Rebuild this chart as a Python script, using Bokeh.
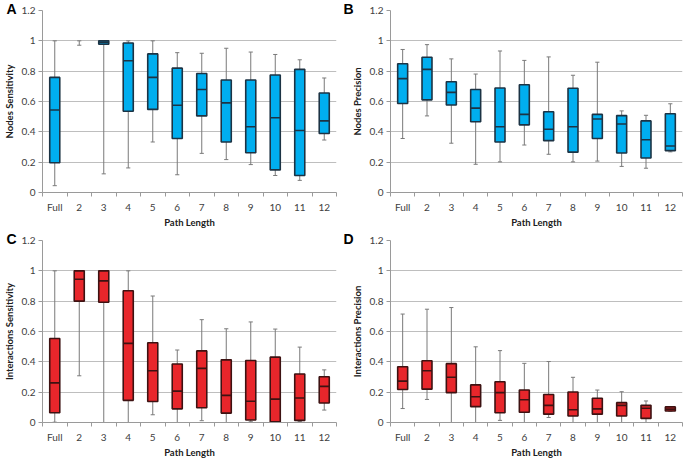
import numpy as np
from bokeh.plotting import figure
from bokeh.layouts import gridplot
from bokeh.models import (FixedTicker, CustomJSTickFormatter, ColumnDataSource, Range1d, Title)
from bokeh.embed import file_html
from bokeh.resources import INLINE

categories = ["Full", "2", "3", "4", "5", "6", "7", "8", "9", "10", "11", "12"]
y_ticks = [0, 0.2, 0.4, 0.6, 0.8, 1.0, 1.2]

# Panel A: Nodes Sensitivity
a_low = [0.045, 0.971, 0.123, 0.162, 0.333, 0.117, 0.258, 0.217, 0.184, 0.112, 0.080, 0.346]
a_q1 = [0.196, 1.000, 0.977, 0.536, 0.548, 0.356, 0.505, 0.333, 0.262, 0.149, 0.112, 0.389]
a_med = [0.544, 1.000, 0.990, 0.869, 0.759, 0.575, 0.679, 0.591, 0.434, 0.493, 0.409, 0.472]
a_q3 = [0.759, 1.000, 1.000, 0.986, 0.914, 0.820, 0.785, 0.742, 0.742, 0.775, 0.812, 0.656]
a_high = [1.000, 1.000, 1.000, 1.000, 1.000, 0.922, 0.918, 0.951, 0.926, 0.910, 0.875, 0.755]

# Panel B: Nodes Precision
b_low = [0.356, 0.505, 0.325, 0.186, 0.202, 0.313, 0.252, 0.202, 0.207, 0.172, 0.160, 0.268]
b_q1 = [0.587, 0.611, 0.577, 0.466, 0.333, 0.446, 0.342, 0.266, 0.356, 0.260, 0.227, 0.276]
b_med = [0.751, 0.812, 0.660, 0.556, 0.434, 0.515, 0.417, 0.434, 0.485, 0.452, 0.348, 0.307]
b_q3 = [0.849, 0.892, 0.730, 0.679, 0.689, 0.710, 0.532, 0.687, 0.515, 0.507, 0.472, 0.519]
b_high = [0.943, 0.975, 0.881, 0.781, 0.933, 0.871, 0.894, 0.773, 0.859, 0.538, 0.509, 0.585]

# Panel C: Interactions Sensitivity
c_low = [0.002, 0.308, 0.000, 0.000, 0.051, 0.000, 0.012, 0.000, 0.005, 0.000, 0.006, 0.082]
c_q1 = [0.064, 0.800, 0.793, 0.146, 0.138, 0.090, 0.097, 0.062, 0.016, 0.004, 0.014, 0.129]
c_med = [0.261, 0.945, 0.934, 0.522, 0.341, 0.207, 0.357, 0.179, 0.140, 0.154, 0.162, 0.238]
c_q3 = [0.554, 1.000, 1.000, 0.869, 0.526, 0.386, 0.472, 0.413, 0.409, 0.431, 0.320, 0.302]
c_high = [1.000, 1.000, 1.000, 1.000, 0.834, 0.478, 0.678, 0.618, 0.663, 0.616, 0.497, 0.347]

# Panel D: Interactions Precision
d_low = [0.092, 0.152, 0.000, 0.000, 0.014, 0.000, 0.033, 0.000, 0.000, 0.000, 0.000, 0.074]
d_q1 = [0.218, 0.220, 0.197, 0.105, 0.064, 0.068, 0.055, 0.043, 0.055, 0.043, 0.027, 0.076]
d_med = [0.273, 0.341, 0.298, 0.170, 0.197, 0.150, 0.113, 0.084, 0.090, 0.113, 0.094, 0.088]
d_q3 = [0.368, 0.407, 0.388, 0.248, 0.269, 0.214, 0.185, 0.201, 0.160, 0.131, 0.113, 0.103]
d_high = [0.715, 0.747, 0.758, 0.499, 0.474, 0.390, 0.402, 0.298, 0.214, 0.203, 0.142, 0.105]

BLUE = "#00AEEF"
BLUE_EDGE = "#1C3344"
RED = "#E8262B"
RED_EDGE = "#3D1212"
GRID = "#BEBEBE"
AXIS = "#9A9A9A"
WHISK = "#7A7A7A"
FONT = "Lato"

BOX_W = 0.41
CAP_W = 0.17


def make_panel(letter, ylabel, low, q1, med, q3, high, fill, edge,
               width, height, border_left, border_right, letter_offset):
    p = figure(width=width, height=height, output_backend="svg", toolbar_location=None,
               x_range=Range1d(0.5, 12.5), y_range=Range1d(0, 1.2),
               min_border_left=border_left, min_border_right=border_right,
               min_border_top=10, min_border_bottom=0)
    p.outline_line_color = None
    p.background_fill_color = "white"
    p.border_fill_color = "white"

    t = Title(text=letter, align="left", offset=letter_offset, standoff=-12,
              text_font="Liberation Sans", text_font_style="bold",
              text_font_size="14px", text_color="black")
    p.add_layout(t, "above")

    x = np.arange(1, len(categories) + 1, dtype=float)
    low = np.array(low); q1 = np.array(q1); med = np.array(med)
    q3 = np.array(q3); high = np.array(high)

    wsrc = ColumnDataSource(dict(x=x, low=low, high=high,
                                 cl=x - CAP_W / 2, cr=x + CAP_W / 2))
    p.segment(x0="x", y0="low", x1="x", y1="high", source=wsrc,
              line_color=WHISK, line_width=1)
    p.segment(x0="cl", y0="high", x1="cr", y1="high", source=wsrc,
              line_color=WHISK, line_width=1)
    p.segment(x0="cl", y0="low", x1="cr", y1="low", source=wsrc,
              line_color=WHISK, line_width=1)

    keep = q3 > q1
    bsrc = ColumnDataSource(dict(x=x[keep], q1=q1[keep], q3=q3[keep], med=med[keep],
                                 ml=x[keep] - BOX_W / 2, mr=x[keep] + BOX_W / 2))
    p.vbar(x="x", width=BOX_W, top="q3", bottom="q1", source=bsrc,
           fill_color=fill, line_color=edge, line_width=1.6)
    p.segment(x0="ml", y0="med", x1="mr", y1="med", source=bsrc,
              line_color=edge, line_width=1.6)

    # axes
    p.xaxis.ticker = FixedTicker(ticks=list(x), minor_ticks=list(np.arange(0.5, 13.0, 1.0)))
    p.xaxis.formatter = CustomJSTickFormatter(args=dict(cats=categories), code="""
        const i = Math.round(tick) - 1;
        return (i >= 0 && i < cats.length) ? cats[i] : '';
    """)
    p.xaxis.major_tick_line_color = None
    p.xaxis.major_tick_out = 0
    p.xaxis.major_tick_in = 0
    p.xaxis.minor_tick_line_color = AXIS
    p.xaxis.minor_tick_out = 4
    p.xaxis.minor_tick_in = 0
    p.xaxis.axis_line_color = AXIS
    p.xaxis.axis_label = "Path Length"
    p.xaxis.major_label_standoff = 4

    p.yaxis.ticker = FixedTicker(ticks=y_ticks, minor_ticks=[])
    p.yaxis.formatter = CustomJSTickFormatter(code="return (Math.round(tick*10)/10).toString();")
    p.yaxis.major_tick_line_color = AXIS
    p.yaxis.major_tick_out = 4
    p.yaxis.major_tick_in = 0
    p.yaxis.minor_tick_line_color = None
    p.yaxis.axis_line_color = AXIS
    p.yaxis.axis_label = ylabel
    p.yaxis.major_label_standoff = 3

    for ax in (p.xaxis[0], p.yaxis[0]):
        ax.major_label_text_font = FONT
        ax.major_label_text_font_size = "10px"
        ax.major_label_text_color = "#404040"
        ax.axis_label_text_font = FONT
        ax.axis_label_text_font_size = "9.5px"
        ax.axis_label_text_font_style = "bold"
        ax.axis_label_text_color = "#202020"
    p.xaxis.axis_label_standoff = 1
    p.yaxis.axis_label_standoff = 4

    p.xgrid.grid_line_color = None
    p.ygrid.grid_line_color = GRID
    p.ygrid.grid_line_width = 1
    return p


W1, W2, H = 342, 342, 230
pa = make_panel("A", "Nodes Sensitivity", a_low, a_q1, a_med, a_q3, a_high, BLUE, BLUE_EDGE,
                W1, H, 0, 6, -36)
pb = make_panel("B", "Nodes Precision", b_low, b_q1, b_med, b_q3, b_high, BLUE, BLUE_EDGE,
                W2, H, 48, 2, -47)
pc = make_panel("C", "Interactions Sensitivity", c_low, c_q1, c_med, c_q3, c_high, RED, RED_EDGE,
                W1, H, 0, 6, -36)
pd = make_panel("D", "Interactions Precision", d_low, d_q1, d_med, d_q3, d_high, RED, RED_EDGE,
                W2, H, 48, 2, -47)

grid = gridplot([[pa, pb], [pc, pd]], toolbar_location=None)

with open("out.html", "w") as f:
    f.write(file_html(grid, INLINE))
